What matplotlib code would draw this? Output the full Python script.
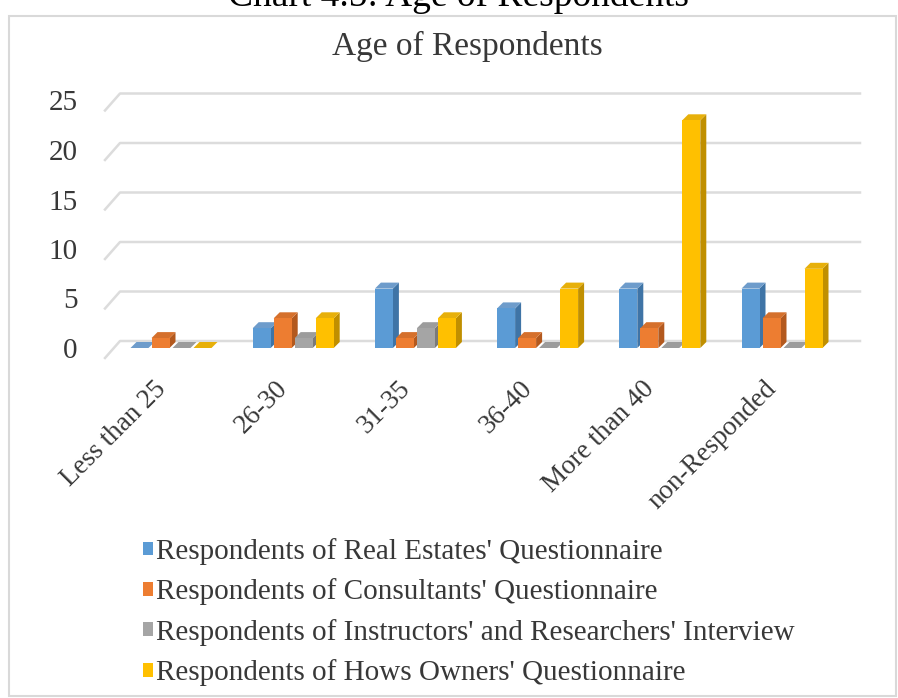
"""
Age of respondents, clustered 3-D style columns per survey group.
"""
import numpy as np
import matplotlib
matplotlib.use('Agg')
import matplotlib.pyplot as plt
from matplotlib.patches import Polygon, Rectangle, Patch

plt.rcParams['font.family'] = ['Liberation Serif', 'DejaVu Serif']

age_groups = ['Less than 25', '26-30', '31-35', '36-40', 'More than 40', 'non-Responded']
series_names = ["Respondents of Real Estates' Questionnaire",
                "Respondents of Consultants' Questionnaire",
                "Respondents of Instructors' and Researchers' Interview",
                "Respondents of Hows Owners' Questionnaire"]
real_estates = [0, 2, 6, 4, 6, 6]
consultants = [1, 3, 1, 1, 2, 3]
instructors = [0, 1, 2, 0, 0, 0]
house_owners = [0, 3, 3, 6, 23, 8]
y_ticks = [0, 5, 10, 15, 20, 25]

# front, side, top shades for each series
front_c = ['#5B9BD5', '#ED7D31', '#A5A5A5', '#FFC000']
side_c = ['#3F74A6', '#B3591E', '#7A7A7A', '#C08F00']
top_c = ['#6E9CCB', '#D5702C', '#9C9C9C', '#E7B00A']
txt_c = '#383838'

W, H = 898, 698
fig = plt.figure(figsize=(W/100, H/100), dpi=100)

# pixel geometry of the plot area
x0_pix, x1_pix = 100, 860
y0_pix = 348          # value 0 on the front plane
px_per_unit = 9.9
c0_pix, c_step = 171, 122.2
ytop = 26
ax = fig.add_axes([x0_pix/W, 1 - y0_pix/H, (x1_pix - x0_pix)/W, ytop*px_per_unit/H])
xl = ((x0_pix - c0_pix)/c_step, (x1_pix - c0_pix)/c_step)
ax.set_xlim(xl)
ax.set_ylim(0, ytop)
for s in ax.spines.values():
    s.set_visible(False)

ux = 1/c_step          # one pixel in x data units
uy = 1/px_per_unit     # one pixel in y data units

# back wall gridlines with a short diagonal to the front edge
for v in y_ticks:
    yb = v + 7*uy
    ax.plot([xl[0] + 5*ux, xl[0] + 20*ux, xl[1]], [v - 10*uy, yb, yb],
            color='#DCDCDC', lw=1.8, clip_on=False, zorder=0)

bar_w = 18*ux
bar_step = 21*ux
dx, dy = 6*ux, 6*uy
data = [real_estates, consultants, instructors, house_owners]
z = 2
for i in range(len(age_groups)):
    for k, vals in enumerate(data):
        v = vals[i]
        xa = i + (k - 1.5)*bar_step - bar_w/2
        xb = xa + bar_w
        ax.add_patch(Polygon([(xb, 0), (xb + dx, dy), (xb + dx, v + dy), (xb, v)],
                             closed=True, fc=side_c[k], ec='none', zorder=z, clip_on=False))
        ax.add_patch(Polygon([(xa, v), (xb, v), (xb + dx, v + dy), (xa + dx, v + dy)],
                             closed=True, fc=top_c[k], ec='none', zorder=z, clip_on=False))
        ax.add_patch(Rectangle((xa, 0), bar_w, v, fc=front_c[k], ec='none',
                               zorder=z + 0.5, clip_on=False))
        z += 1

ax.set_xticks([])
ax.set_yticks(y_ticks)
ax.set_yticklabels([str(t) for t in y_ticks], fontsize=21, color=txt_c)
ax.tick_params(axis='y', length=0, pad=16)

for i, g in enumerate(age_groups):
    ax.text(i - 9*ux, -37*uy, g, rotation=45, rotation_mode='anchor',
            ha='right', va='center', fontsize=19.5, color=txt_c, clip_on=False)

fig.text(467/W, 1 - 46/H, 'Age of Respondents', ha='center', va='center',
         fontsize=24, color=txt_c)
# caption of the page above, cut by the top edge
fig.text(458/W, 1 - 6/H, 'Chart 4.5: Age of Respondents', ha='center', va='baseline',
         fontsize=27, color='black')

# chart frame
fig.patches.append(Rectangle((9/W, 1 - 696/H), 887/W, 680/H, transform=fig.transFigure,
                             fill=False, ec='#D9D9D9', lw=1.5))

handles = [Patch(fc=front_c[k], ec='none') for k in range(4)]
leg = fig.legend(handles, series_names, loc='upper left',
                 bbox_to_anchor=(143/W, 1 - 538/H), frameon=False,
                 fontsize=21, handlelength=0.35, handleheight=0.35,
                 handletextpad=0.1, labelspacing=0.46, borderpad=0,
                 borderaxespad=0)
for t in leg.get_texts():
    t.set_color(txt_c)

plt.savefig('out.png', dpi=100)
